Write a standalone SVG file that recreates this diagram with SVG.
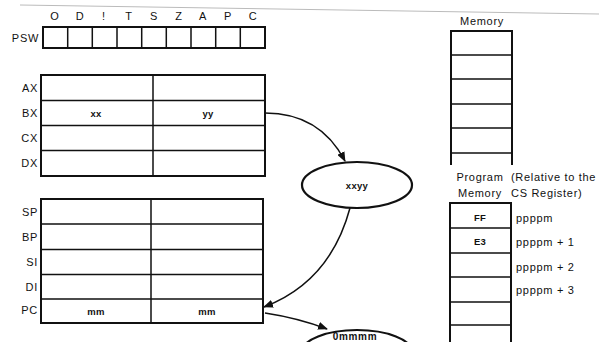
<svg xmlns="http://www.w3.org/2000/svg" width="599" height="342" viewBox="0 0 599 342">
<style>
text{font-family:"Liberation Sans",Arial,sans-serif;font-size:11px;letter-spacing:0.7px;fill:#111;}
.lbl{text-anchor:end;dominant-baseline:central;}
.c{text-anchor:middle;dominant-baseline:central;}
.l{dominant-baseline:central;}
.sm{font-size:9.5px;font-weight:bold;letter-spacing:0.3px;}
.box{fill:none;stroke:#111;stroke-width:2;}
.div{stroke:#111;stroke-width:1.5;fill:none;}
.conn{fill:none;stroke:#111;stroke-width:1.5;}
.ell{fill:#fff;stroke:#111;stroke-width:2.2;}
</style>
<defs>
<marker id="ah" markerWidth="10" markerHeight="8" refX="9" refY="4" orient="auto" markerUnits="userSpaceOnUse">
<path d="M0,0 L10,4 L0,8 Z" fill="#111"/>
</marker>
</defs>
<rect width="599" height="342" fill="#fff"/>
<line x1="20" y1="5" x2="599" y2="14" stroke="#bbb" stroke-width="1"/>

<g id="psw">
<text class="lbl" x="39" y="38">PSW</text>
<rect class="box" x="43" y="27" width="222" height="21"/>
<path class="div" d="M67.7,27V48M92.3,27V48M117,27V48M141.7,27V48M166.3,27V48M191,27V48M215.7,27V48M240.3,27V48"/>
<text class="c" x="55" y="16">O</text>
<text class="c" x="80" y="16">D</text>
<text class="c" x="104" y="16">!</text>
<text class="c" x="129" y="16">T</text>
<text class="c" x="154" y="16">S</text>
<text class="c" x="179" y="16">Z</text>
<text class="c" x="203" y="16">A</text>
<text class="c" x="228" y="16">P</text>
<text class="c" x="253" y="16">C</text>
</g>

<g id="general-registers">
<rect class="box" x="41" y="75" width="224" height="101"/>
<path class="div" d="M41,100.5H265M41,125.5H265M41,150.5H265M153,75V176"/>
<text class="lbl" x="38" y="88">AX</text>
<text class="lbl" x="38" y="113">BX</text>
<text class="lbl" x="38" y="138">CX</text>
<text class="lbl" x="38" y="163">DX</text>
<text class="c sm" x="96" y="113">xx</text>
<text class="c sm" x="208" y="113">yy</text>
</g>

<g id="pointer-registers">
<rect class="box" x="41" y="199" width="222" height="124"/>
<path class="div" d="M41,224H263M41,249.5H263M41,274.5H263M41,299H263M151,199V323"/>
<text class="lbl" x="38" y="212">SP</text>
<text class="lbl" x="38" y="237">BP</text>
<text class="lbl" x="38" y="262">SI</text>
<text class="lbl" x="38" y="287">DI</text>
<text class="lbl" x="38" y="310">PC</text>
<text class="c sm" x="96" y="311">mm</text>
<text class="c sm" x="207" y="311">mm</text>
</g>

<g id="connectors">
<path class="conn" d="M265,113 Q320,113 345,161" marker-end="url(#ah)"/>
<path class="conn" d="M350,208 Q330,282 264,307" marker-end="url(#ah)"/>
<path class="conn" d="M265,313 Q298,318 327,329" marker-end="url(#ah)"/>
</g>

<g id="xxyy">
<ellipse class="ell" cx="357" cy="185" rx="55" ry="23"/>
<text class="c sm" x="357" y="185">xxyy</text>
</g>

<g id="ommmm">
<ellipse class="ell" cx="357" cy="352" rx="55" ry="22"/>
<text class="c" x="355" y="336.5" style="font-weight:bold;font-size:10px">0mmmm</text>
</g>

<g id="memory">
<text class="c" x="482" y="21">Memory</text>
<path class="box" d="M451,165V31H512V165"/>
<path class="div" d="M451,55H512M451,79H512M451,104H512M451,128H512M451,153H512"/>
</g>

<g id="program-memory">
<text class="c" x="480" y="177">Program</text>
<text class="c" x="480" y="193">Memory</text>
<text class="l" x="511" y="177">(Relative to the</text>
<text class="l" x="511" y="193">CS Register)</text>
<path class="box" d="M450,342V203H511V342"/>
<path class="div" d="M450,228H511M450,253H511M450,277H511M450,302H511M450,325H511"/>
<text class="c sm" x="480" y="217">FF</text>
<text class="c sm" x="480" y="241">E3</text>
<text class="l" x="516" y="218">ppppm</text>
<text class="l" x="516" y="242">ppppm + 1</text>
<text class="l" x="516" y="267">ppppm + 2</text>
<text class="l" x="516" y="290">ppppm + 3</text>
</g>
</svg>
